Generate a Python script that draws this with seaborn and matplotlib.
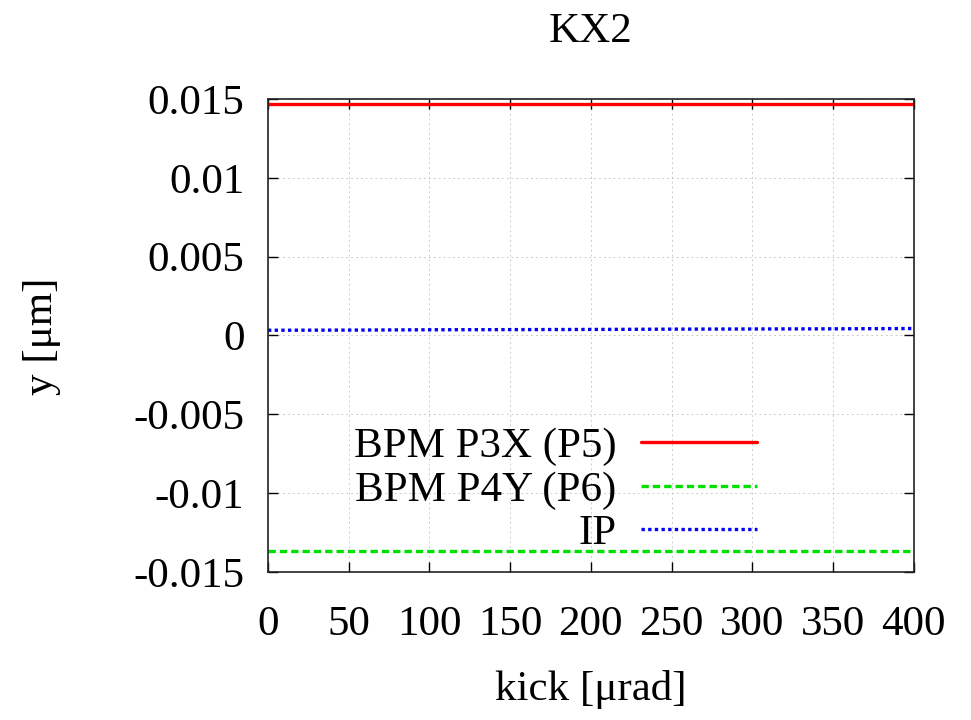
import numpy as np
import pandas as pd
import matplotlib
matplotlib.use("Agg")
import matplotlib.pyplot as plt
import seaborn as sns

kick = [0, 50, 100, 150, 200, 250, 300, 350, 400]
bpm_p3x = [0.0147, 0.0147, 0.0147, 0.0147, 0.0147, 0.0147, 0.0147, 0.0147, 0.0147]
bpm_p4y = [-0.01365, -0.01365, -0.01365, -0.01365, -0.01365, -0.01365, -0.01365, -0.01365, -0.01365]
ip = [0.00033, 0.00034, 0.00036, 0.00037, 0.00038, 0.00040, 0.00041, 0.00042, 0.00044]
labels = ["BPM P3X (P5)", "BPM P4Y (P6)", "IP"]
xticks = [0, 50, 100, 150, 200, 250, 300, 350, 400]
yticks = [-0.015, -0.01, -0.005, 0, 0.005, 0.01, 0.015]
ytick_labels = ["-0.015", "-0.01", "-0.005", "0", "0.005", "0.01", "0.015"]

sns.set_style("ticks")
plt.rcParams['font.family'] = ['Liberation Serif', 'DejaVu Serif']
plt.rcParams['text.color'] = 'black'
plt.rcParams['axes.labelcolor'] = 'black'
plt.rcParams['xtick.color'] = 'black'
plt.rcParams['ytick.color'] = 'black'

FS = 31

fig = plt.figure(figsize=(9.71, 7.2), dpi=100)
ax = fig.add_axes([0.276, 0.2056, 0.665, 0.657])

df = pd.DataFrame({"kick": kick * 3,
                   "y": bpm_p3x + bpm_p4y + ip,
                   "series": [labels[0]] * len(kick) + [labels[1]] * len(kick) + [labels[2]] * len(kick)})

colors = ["#ff0000", "#00e000", "#0000ff"]
styles = ["-", (0, (2.2, 1.2)), (0, (1.0, 1.0))]
for lab, c, ls in zip(labels, colors, styles):
    sub = df[df["series"] == lab]
    sns.lineplot(data=sub, x="kick", y="y", ax=ax, color=c, linewidth=2.4,
                 linestyle=ls, label=lab)

ax.set_xlim(0, 400)
ax.set_ylim(-0.015, 0.015)
ax.set_xticks(xticks)
ax.set_xticklabels([str(t) for t in xticks])
ax.set_yticks(yticks)
ax.set_yticklabels(ytick_labels)
ax.grid(True, color="#cccccc", linestyle=(0, (2, 3)), linewidth=0.7)
ax.tick_params(direction="in", length=7, width=1.0, labelsize=FS, top=True, right=True,
               colors="black", labelcolor="black")
ax.tick_params(axis="y", pad=17)
ax.tick_params(axis="x", pad=24)
for s in ax.spines.values():
    s.set_linewidth(1.2)
    s.set_color("#222222")

ax.set_title("KX2", fontsize=FS, y=1.141, pad=0, va="center", color="black")
ax.set_xlabel("kick [μrad]", fontsize=FS, color="black")
ax.set_ylabel("y [μm]", fontsize=FS, color="black")
ax.xaxis.set_label_coords(0.5, -0.248)
ax.xaxis.label.set_va("center")
ax.yaxis.set_label_coords(-0.35, 0.499)
ax.yaxis.label.set_va("center")

leg = ax.legend(loc="center right", bbox_to_anchor=(0.758, 0.173), frameon=False,
                markerfirst=False, fontsize=FS, handlelength=2.7, handletextpad=0.58,
                labelspacing=0.1, borderpad=0, borderaxespad=0)
for t in leg.get_texts():
    t.set_color("black")

fig.savefig("out.png", dpi=100)
